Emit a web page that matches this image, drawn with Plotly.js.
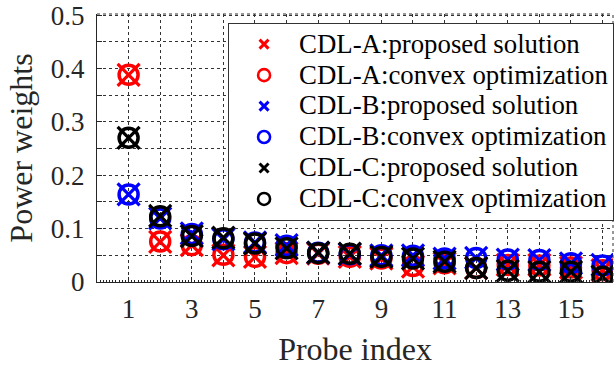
<!DOCTYPE html>
<html><head><meta charset="utf-8">
<script src="https://cdn.plot.ly/plotly-3.0.1.min.js"></script>
<style>html,body{margin:0;padding:0;background:#fff}#g{width:616px;height:369px}</style>
</head><body><div id="g"></div>
<script>
var probes = [1,2,3,4,5,6,7,8,9,10,11,12,13,14,15,16];
var xTickLabels = ['1','','3','','5','','7','','9','','11','','13','','15',''];
var yTickVals = [0,0.1,0.2,0.3,0.4,0.5];
var yTickLabels = ['0','0.1','0.2','0.3','0.4','0.5'];

var cdlA_proposed = [0.388,0.075,0.069,0.050,0.047,0.054,0.053,0.047,0.044,0.029,0.035,0.026,0.032,0.032,0.027,0.022];
var cdlA_convex   = [0.388,0.076,0.069,0.051,0.047,0.054,0.053,0.047,0.044,0.030,0.035,0.026,0.032,0.031,0.027,0.022];
var cdlB_proposed = [0.164,0.119,0.091,0.080,0.074,0.069,0.055,0.052,0.050,0.050,0.044,0.045,0.042,0.041,0.035,0.032];
var cdlB_convex   = [0.164,0.119,0.090,0.080,0.074,0.068,0.055,0.052,0.050,0.049,0.044,0.045,0.042,0.041,0.035,0.031];
var cdlC_proposed = [0.270,0.124,0.086,0.083,0.072,0.063,0.055,0.053,0.047,0.044,0.038,0.026,0.021,0.019,0.019,0.010];
var cdlC_convex   = [0.270,0.123,0.086,0.082,0.072,0.063,0.054,0.053,0.047,0.044,0.038,0.026,0.021,0.019,0.019,0.010];

var seriesNames = ['CDL-A:proposed solution','CDL-A:convex optimization','CDL-B:proposed solution','CDL-B:convex optimization','CDL-C:proposed solution','CDL-C:convex optimization'];
var seriesData = [cdlA_proposed,cdlA_convex,cdlB_proposed,cdlB_convex,cdlC_proposed,cdlC_convex];
var colors = ['#ff0000','#ff0000','#0000ff','#0000ff','#000000','#000000'];

var traces = [];
for (var i=0;i<6;i++){
  var isX = (i%2===0);
  traces.push({
    x: probes, y: seriesData[i], type:'scatter', mode:'markers', showlegend:false,
    marker: isX ? {symbol:'x-thin-open', size:22, color:colors[i], line:{color:colors[i], width:3.2}}
               : {symbol:'circle-open', size:19, color:colors[i], line:{color:colors[i], width:3.5}},
    hoverinfo:'skip'
  });
}
for (var i=0;i<6;i++){
  var isX = (i%2===0);
  traces.push({
    x:[null], y:[null], type:'scatter', mode:'markers', showlegend:true,
    name: '<span style="font-size:26.8px">' + seriesNames[i] + '</span>',
    marker: isX ? {symbol:'x-thin-open', size:9, color:colors[i], line:{color:colors[i], width:3}}
               : {symbol:'circle-open', size:12, color:colors[i], line:{color:colors[i], width:2.6}}
  });
}

var fontFam = 'Liberation Serif, Times New Roman, serif';
var layout = {
  width:616, height:369,
  margin:{l:97, r:3, t:14, b:87, autoexpand:false},
  paper_bgcolor:'#fff', plot_bgcolor:'#fff',
  font:{family:fontFam, color:'#262626'},
  showlegend:true,
  legend:{x:0.254, y:0.9675, xanchor:'left', yanchor:'top', bgcolor:'#fff',
          bordercolor:'#333', borderwidth:1, font:{family:fontFam, size:21.5, color:'#000'},
          itemwidth:60, tracegroupgap:0},
  xaxis:{range:[0,16.33], tickvals:probes, ticktext:xTickLabels, showgrid:true, gridcolor:'#333',
         griddash:'dot', gridwidth:1, zeroline:false, showline:true, linecolor:'#262626', linewidth:1,
         ticks:'inside', ticklen:5, tickcolor:'#262626', tickfont:{family:fontFam, size:27, color:'#262626'},
         ticklabelstandoff:3,
         minor:{dtick:0.1, tick0:0, ticks:'inside', ticklen:2, tickcolor:'#262626', showgrid:false},
         title:{text:'Probe index', font:{family:fontFam, size:32, color:'#262626'}, standoff:14}},
  yaxis:{range:[0,0.502], tickvals:yTickVals, ticktext:yTickLabels, showgrid:true, gridcolor:'#333',
         griddash:'dot', gridwidth:1, zeroline:false, showline:true, linecolor:'#262626', linewidth:1,
         ticks:'inside', ticklen:5, tickcolor:'#262626', tickfont:{family:fontFam, size:27, color:'#262626'},
         ticklabelstandoff:6, ticklabeloverflow:'allow',
         minor:{dtick:0.05, tick0:0, ticks:'inside', ticklen:5, tickcolor:'#262626', showgrid:true,
                gridcolor:'#333', griddash:'dot', gridwidth:1},
         title:{text:'Power weights', font:{family:fontFam, size:32, color:'#262626'}, standoff:8}},
  shapes:[{type:'line', xref:'paper', yref:'paper', x0:1, x1:1, y0:0, y1:1,
           line:{color:'#333', width:1, dash:'dot'}},
          {type:'line', xref:'paper', yref:'paper', x0:0, x1:1, y0:1, y1:1,
           line:{color:'#333', width:1, dash:'dot'}}]
};
Plotly.newPlot('g', traces, layout, {displayModeBar:false, staticPlot:true});
</script></body></html>
